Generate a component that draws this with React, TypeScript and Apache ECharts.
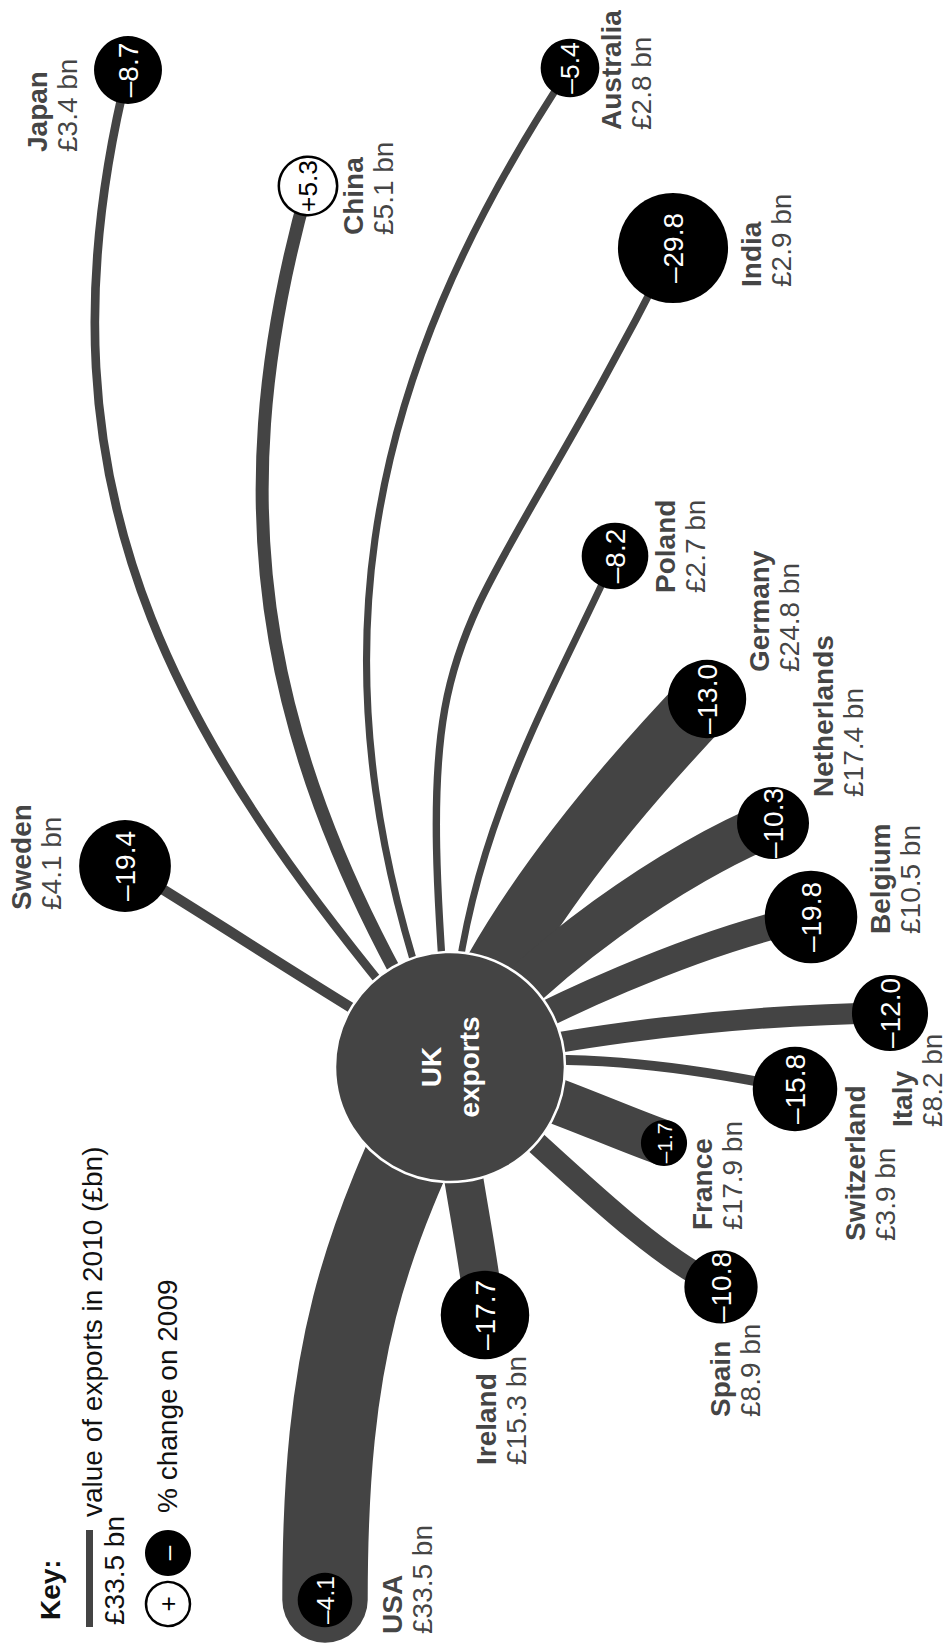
import React, { useEffect, useRef } from "react";
import * as echarts from "echarts";

// ---------- data ----------
const countries = ["USA", "Japan", "China", "Australia", "India", "Poland", "Germany", "Netherlands", "Belgium", "Italy", "Switzerland", "France", "Spain", "Ireland", "Sweden"];
const exports2010 = [33.5, 3.4, 5.1, 2.8, 2.9, 2.7, 24.8, 17.4, 10.5, 8.2, 3.9, 17.9, 8.9, 15.3, 4.1];
const changeOn2009 = [-4.1, -8.7, 5.3, -5.4, -29.8, -8.2, -13.0, -10.3, -19.8, -12.0, -15.8, -1.7, -10.8, -17.7, -19.4];

// ---------- layout (page pixel space used by hidden axes) ----------
const ukCenter = [450, 1067];
const endX = [325, 128, 308, 570, 673, 615, 707, 773, 811, 890, 795, 664, 721, 485, 125];
const endY = [1600, 70, 186, 68, 248, 556, 699, 823, 917, 1013, 1089, 1143, 1287, 1315, 866];
const ctrl1X = [362, 192, 268, 299, 410, 455, 500, 530, 540, 520, 560, 540, 540, 455, 350];
const ctrl1Y = [1247, 763, 769, 676, 585, 850, 930, 960, 1010, 1045, 1050, 1090, 1140, 1150, 1010];
const ctrl2X = [325, 19, 213, 361, 450, 550, 620, 680, 700, 700, 680, 600, 640, 475, 230];
const ctrl2Y = [1350, 507, 522, 383, 689, 700, 790, 860, 940, 1015, 1065, 1120, 1250, 1230, 930];
const labelX = [407, 52, 368, 626, 766, 680, 774, 838, 895, 917, 870, 717, 735, 501, 36];
const labelY = [1634, 152, 235, 130, 287, 593, 672, 797, 934, 1127, 1241, 1230, 1417, 1465, 910];

const FONT = "'Liberation Sans', Arial, Helvetica, sans-serif";
const WIDTH_PER_BN = 2.55;
const FLOW_COLOR = "#444444";

const fmtChange = (v: number) => (v < 0 ? "\u2013" : "+") + Math.abs(v).toFixed(1);
const fmtBn = (v: number) => "£" + v.toFixed(1) + " bn";
const circleRadius = (v: number) => Math.sqrt(380 + 89 * Math.abs(v));

export default function App() {
  const ref = useRef<HTMLDivElement>(null);

  useEffect(() => {
    document.body.style.margin = "0";
    document.body.style.overflow = "hidden";
    const chart = echarts.init(ref.current as HTMLDivElement, null, { renderer: "svg" });

    const flowData = countries.map((c, i) => [
      ukCenter[0], ukCenter[1], ctrl1X[i], ctrl1Y[i], ctrl2X[i], ctrl2Y[i], endX[i], endY[i], exports2010[i], c === "USA" ? 1 : 0,
    ]);

    const endData = countries.map((c, i) => {
      const v = changeOn2009[i];
      const r = circleRadius(v);
      const pos = v >= 0;
      return {
        name: c,
        value: [endX[i], endY[i], v],
        symbolSize: 2 * r,
        itemStyle: pos ? { color: "#ffffff", borderColor: "#000000", borderWidth: 2.5 } : { color: "#000000" },
        label: { color: pos ? "#000000" : "#ffffff", fontSize: Math.min(28, 0.9 * r) },
      };
    });

    const labelData = countries.map((c, i) => ({
      name: c,
      value: [labelX[i], labelY[i], exports2010[i]],
    }));

    const option: any = {
      animation: false,
      backgroundColor: "#ffffff",
      grid: { left: 0, right: 0, top: 0, bottom: 0 },
      xAxis: { type: "value", min: 0, max: 950, show: false },
      yAxis: { type: "value", min: 0, max: 1646, inverse: true, show: false },
      series: [
        {
          type: "custom",
          name: "flows",
          coordinateSystem: "cartesian2d",
          silent: true,
          clip: false,
          z: 2,
          encode: { x: 0, y: 1 },
          data: flowData,
          renderItem: (params: any, api: any) => {
            const p0 = api.coord([api.value(0), api.value(1)]);
            const c1 = api.coord([api.value(2), api.value(3)]);
            const c2 = api.coord([api.value(4), api.value(5)]);
            const p3 = api.coord([api.value(6), api.value(7)]);
            return {
              type: "bezierCurve",
              shape: { x1: p0[0], y1: p0[1], cpx1: c1[0], cpy1: c1[1], cpx2: c2[0], cpy2: c2[1], x2: p3[0], y2: p3[1] },
              style: {
                stroke: FLOW_COLOR,
                fill: null,
                lineWidth: api.value(8) * WIDTH_PER_BN,
                lineCap: api.value(9) ? "round" : "butt",
              },
            };
          },
        },
        {
          type: "scatter",
          name: "UK",
          silent: true,
          z: 3,
          symbol: "circle",
          symbolSize: 230,
          itemStyle: { color: FLOW_COLOR, borderColor: "#ffffff", borderWidth: 2.5, opacity: 1 },
          data: [[ukCenter[0], ukCenter[1]]],
          label: {
            show: true,
            position: "inside",
            rotate: 90,
            formatter: "UK\nexports",
            color: "#ffffff",
            fontFamily: FONT,
            fontWeight: "bold",
            fontSize: 28,
            lineHeight: 38,
            align: "center",
            verticalAlign: "middle",
          },
        },
        {
          type: "scatter",
          name: "change",
          silent: true,
          z: 4,
          symbol: "circle",
          data: endData,
          itemStyle: { opacity: 1 },
          label: {
            show: true,
            position: "inside",
            rotate: 90,
            fontFamily: FONT,
            formatter: (p: any) => fmtChange(p.value[2]),
          },
        },
        {
          type: "scatter",
          name: "labels",
          silent: true,
          z: 5,
          symbol: "circle",
          symbolSize: 1,
          itemStyle: { color: "rgba(0,0,0,0)" },
          data: labelData,
          label: {
            show: true,
            position: "inside",
            rotate: 90,
            align: "left",
            verticalAlign: "middle",
            formatter: (p: any) => "{n|" + p.name + "}\n{v|" + fmtBn(p.value[2]) + "}",
            rich: {
              n: { fontFamily: FONT, fontWeight: "bold", fontSize: 28, lineHeight: 30, color: "#111111" },
              v: { fontFamily: FONT, fontSize: 28, lineHeight: 30, color: "#111111" },
            },
          },
        },
      ],
      graphic: [
        {
          type: "text", x: 50, y: 1620, rotation: Math.PI / 2,
          style: { text: "Key:", font: `bold 28px ${FONT}`, fill: "#111111", align: "left", verticalAlign: "middle", textAlign: "left", textVerticalAlign: "middle" },
        },
        { type: "rect", shape: { x: 86, y: 1530, width: 7, height: 97 }, style: { fill: FLOW_COLOR } },
        {
          type: "text", x: 92, y: 1517, rotation: Math.PI / 2,
          style: { text: "value of exports in 2010 (£bn)", font: `28px ${FONT}`, fill: "#111111", align: "left", verticalAlign: "middle", textAlign: "left", textVerticalAlign: "middle" },
        },
        {
          type: "text", x: 114, y: 1625, rotation: Math.PI / 2,
          style: { text: "£33.5 bn", font: `28px ${FONT}`, fill: "#111111", align: "left", verticalAlign: "middle", textAlign: "left", textVerticalAlign: "middle" },
        },
        { type: "circle", shape: { cx: 168, cy: 1553, r: 23 }, style: { fill: "#000000" } },
        {
          type: "text", x: 168, y: 1553, rotation: Math.PI / 2,
          style: { text: "\u2013", font: `26px ${FONT}`, fill: "#ffffff", align: "center", verticalAlign: "middle", textAlign: "center", textVerticalAlign: "middle" },
        },
        { type: "circle", shape: { cx: 168, cy: 1604, r: 22 }, style: { fill: "#ffffff", stroke: "#000000", lineWidth: 2.5 } },
        {
          type: "text", x: 168, y: 1604, rotation: Math.PI / 2,
          style: { text: "+", font: `26px ${FONT}`, fill: "#000000", align: "center", verticalAlign: "middle", textAlign: "center", textVerticalAlign: "middle" },
        },
        {
          type: "text", x: 167, y: 1513, rotation: Math.PI / 2,
          style: { text: "% change on 2009", font: `28px ${FONT}`, fill: "#111111", align: "left", verticalAlign: "middle", textAlign: "left", textVerticalAlign: "middle" },
        },
      ],
    };

    chart.setOption(option);
    return () => chart.dispose();
  }, []);

  return <div ref={ref} style={{ width: 950, height: 1646 }} />;
}
